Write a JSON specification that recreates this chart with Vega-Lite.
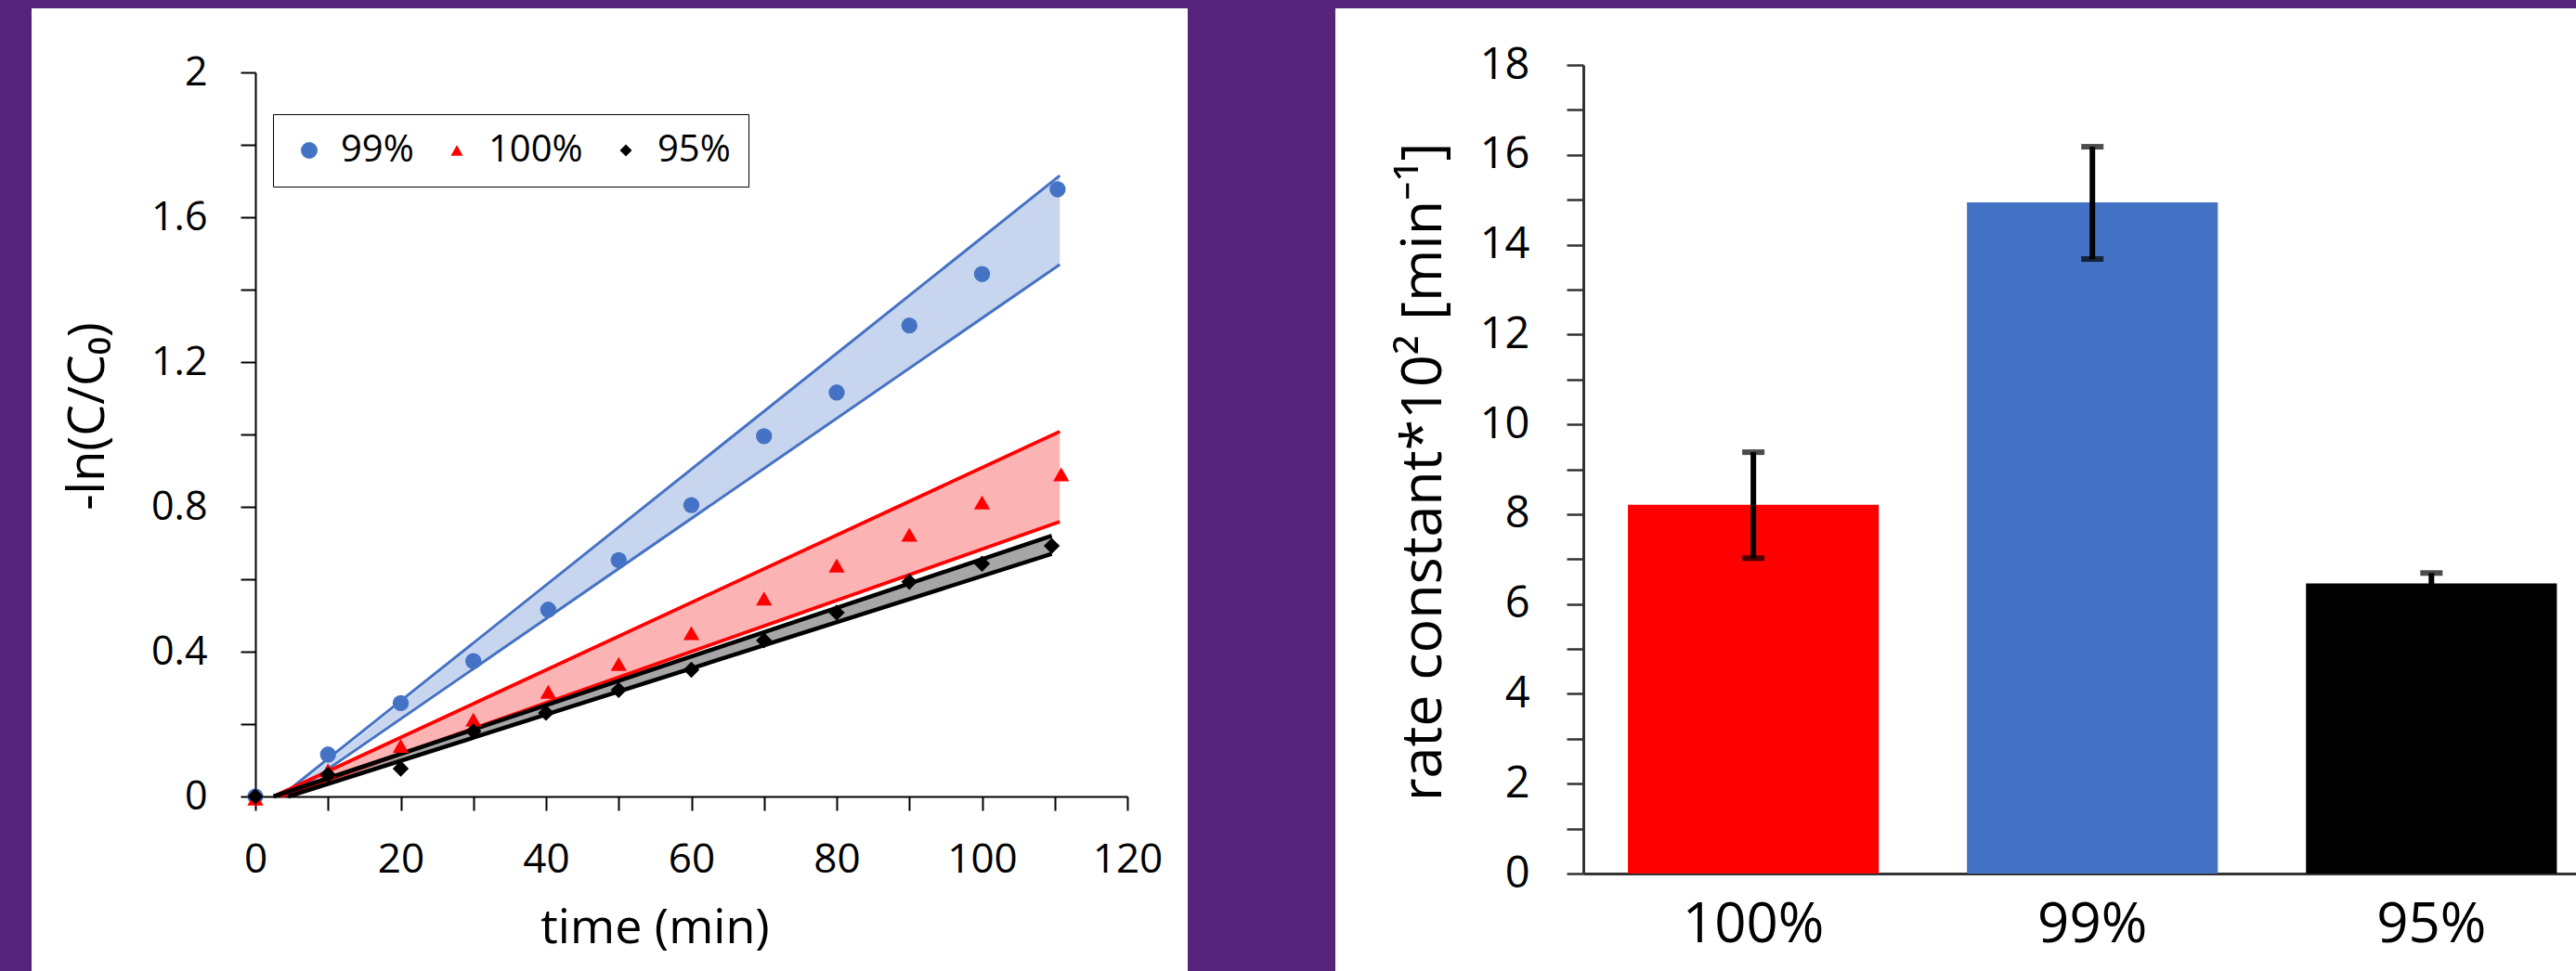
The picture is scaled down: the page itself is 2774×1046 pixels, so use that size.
{
  "$schema": "https://vega.github.io/schema/vega-lite/v6.json",
  "background": "#56237A",
  "padding": {"left": 34, "top": 9, "right": 0, "bottom": 0},
  "spacing": 159,
  "config": {
    "font": "Open Sans",
    "view": {"fill": "white", "stroke": null},
    "axis": {
      "grid": false,
      "domainColor": "#000000",
      "tickColor": "#000000",
      "labelColor": "#000000",
      "titleColor": "#000000",
      "labelFont": "Open Sans",
      "titleFont": "Open Sans",
      "titleFontWeight": "normal",
      "labelOverlap": false,
      "labelFlush": false,
      "labelBound": false
    }
  },
  "datasets": {
    "points": [
      {"series": "99%", "t": 0, "v": 0},
      {"series": "99%", "t": 10, "v": 0.116},
      {"series": "99%", "t": 20, "v": 0.258},
      {"series": "99%", "t": 30, "v": 0.374},
      {"series": "99%", "t": 40.3, "v": 0.516},
      {"series": "99%", "t": 50, "v": 0.653},
      {"series": "99%", "t": 60, "v": 0.805},
      {"series": "99%", "t": 70, "v": 0.995},
      {"series": "99%", "t": 80, "v": 1.116},
      {"series": "99%", "t": 90, "v": 1.301},
      {"series": "99%", "t": 100, "v": 1.443},
      {"series": "99%", "t": 110.4, "v": 1.677},
      {"series": "100%", "t": 0, "v": -0.006},
      {"series": "100%", "t": 10, "v": 0.072},
      {"series": "100%", "t": 20, "v": 0.14},
      {"series": "100%", "t": 30, "v": 0.212},
      {"series": "100%", "t": 40.3, "v": 0.289},
      {"series": "100%", "t": 50, "v": 0.366},
      {"series": "100%", "t": 60, "v": 0.451},
      {"series": "100%", "t": 70, "v": 0.547},
      {"series": "100%", "t": 80, "v": 0.638},
      {"series": "100%", "t": 90, "v": 0.723},
      {"series": "100%", "t": 100, "v": 0.812},
      {"series": "100%", "t": 110.9, "v": 0.89},
      {"series": "95%", "t": 0, "v": 0},
      {"series": "95%", "t": 10, "v": 0.06},
      {"series": "95%", "t": 20, "v": 0.077},
      {"series": "95%", "t": 30, "v": 0.18},
      {"series": "95%", "t": 40, "v": 0.231},
      {"series": "95%", "t": 50, "v": 0.294},
      {"series": "95%", "t": 60, "v": 0.35},
      {"series": "95%", "t": 70, "v": 0.431},
      {"series": "95%", "t": 80, "v": 0.508},
      {"series": "95%", "t": 90, "v": 0.593},
      {"series": "95%", "t": 100, "v": 0.643},
      {"series": "95%", "t": 109.6, "v": 0.692}
    ],
    "bands": [
      {"series": "99%", "t": 4, "lo": 0, "hi": 0},
      {"series": "99%", "t": 110.7, "lo": 1.469, "hi": 1.715},
      {"series": "100%", "t": 3, "lo": 0, "hi": 0},
      {"series": "100%", "t": 110.7, "lo": 0.759, "hi": 1.008},
      {"series": "95%", "t": 3.5, "lo": 0, "hi": 0},
      {"series": "95%", "t": 109.6, "lo": 0.67, "hi": 0.72}
    ],
    "lines": [
      {"series": "99%", "edge": "upper", "x1": 3.5, "y1": 0, "x2": 110.7, "y2": 1.715},
      {"series": "99%", "edge": "lower", "x1": 4.5, "y1": 0, "x2": 110.7, "y2": 1.469},
      {"series": "100%", "edge": "upper", "x1": 2.5, "y1": 0, "x2": 110.7, "y2": 1.008},
      {"series": "100%", "edge": "lower", "x1": 3.5, "y1": 0, "x2": 110.7, "y2": 0.759},
      {"series": "95%", "edge": "upper", "x1": 2.5, "y1": 0, "x2": 109.6, "y2": 0.72},
      {"series": "95%", "edge": "lower", "x1": 4.5, "y1": 0, "x2": 109.6, "y2": 0.67}
    ],
    "bars": [
      {"cat": "100%", "k": 8.21, "lo": 7.02, "hi": 9.38},
      {"cat": "99%", "k": 14.94, "lo": 13.68, "hi": 16.18},
      {"cat": "95%", "k": 6.46, "lo": 6.24, "hi": 6.69}
    ]
  },
  "hconcat": [
    {
      "width": 1245,
      "height": 1037,
      "layer": [
        {
          "data": {"name": "bands"},
          "mark": {"type": "area", "opacity": 1},
          "encoding": {
            "x": {
              "field": "t", "type": "quantitative", "title": "time (min)",
              "scale": {"domain": [0, 120], "range": [241, 1180], "nice": false, "zero": false},
              "axis": {
                "values": [0, 10, 20, 30, 40, 50, 60, 70, 80, 90, 100, 110, 120],
                "labelExpr": "datum.value % 20 == 0 ? datum.label : ''",
                "offset": -188,
                "tickSize": 15, "tickWidth": 2, "domainWidth": 2,
                "labelFontSize": 44, "labelPadding": 31,
                "titleFontSize": 52, "titleX": 671, "titleY": 157,
                "titleBaseline": "alphabetic", "titleAlign": "center"
              }
            },
            "y": {
              "field": "lo", "type": "quantitative", "title": "-ln(C/C₀)",
              "scale": {"domain": [0, 2], "range": [849, 69], "nice": false},
              "axis": {
                "values": [0, 0.2, 0.4, 0.6, 0.8, 1, 1.2, 1.4, 1.6, 1.8, 2],
                "format": "~g",
                "labelExpr": "round(datum.value * 10) % 4 == 0 ? datum.label : ''",
                "offset": -241,
                "tickSize": 16, "tickWidth": 2, "domainWidth": 2,
                "labelFontSize": 43, "labelPadding": 36,
                "titleFontSize": 54, "titleX": -180, "titleY": 439,
                "titleAngle": 270, "titleBaseline": "middle", "titleAlign": "center"
              }
            },
            "y2": {"field": "hi"},
            "fill": {
              "field": "series", "type": "nominal",
              "scale": {"domain": ["100%", "95%", "99%"], "range": ["#FBB3B3", "#A6A6A6", "#C7D5EE"]},
              "legend": null
            }
          }
        },
        {
          "data": {"name": "lines"},
          "mark": {"type": "rule"},
          "encoding": {
            "x": {"field": "x1", "type": "quantitative", "title": "time (min)"},
            "x2": {"field": "x2"},
            "y": {"field": "y1", "type": "quantitative", "title": "-ln(C/C₀)"},
            "y2": {"field": "y2"},
            "stroke": {
              "field": "series", "type": "nominal",
              "scale": {"domain": ["95%", "99%", "100%"], "range": ["#000000", "#4472C4", "#FF0000"]},
              "legend": null
            },
            "strokeWidth": {
              "field": "series", "type": "nominal",
              "scale": {"domain": ["95%", "100%", "99%"], "range": [4.5, 3, 3]},
              "legend": null
            }
          }
        },
        {
          "data": {"name": "points"},
          "mark": {"type": "point", "filled": true, "opacity": 1, "size": 300},
          "encoding": {
            "x": {"field": "t", "type": "quantitative", "title": "time (min)"},
            "y": {"field": "v", "type": "quantitative", "title": "-ln(C/C₀)"},
            "color": {
              "field": "series", "type": "nominal",
              "scale": {"domain": ["95%", "99%", "100%"], "range": ["#000000", "#4472C4", "#FF0000"]},
              "legend": null
            },
            "shape": {
              "field": "series", "type": "nominal",
              "scale": {"domain": ["99%", "100%", "95%"], "range": ["circle", "triangle-up", "diamond"]},
              "legend": {
                "orient": "none", "legendX": 260, "legendY": 114,
                "direction": "horizontal", "title": null,
                "strokeColor": "#000000", "fillColor": "#FFFFFF",
                "padding": 19, "labelFontSize": 40, "labelOffset": 14,
                "columnPadding": 26, "symbolSize": 280, "symbolStrokeWidth": 0,
                "labelColor": "#000000",
                "encoding": {
                  "symbols": {
                    "fill": {"value": {"expr": "datum.value === '99%' ? '#4472C4' : (datum.value === '100%' ? '#FF0000' : '#000000')"}},
                    "size": {"value": {"expr": "datum.value === '99%' ? 324 : 170"}}
                  }
                }
              }
            }
          }
        }
      ]
    },
    {
      "width": 1336,
      "height": 1037,
      "data": {"name": "bars"},
      "encoding": {
        "x": {
          "field": "cat", "type": "nominal", "sort": ["100%", "99%", "95%"], "title": null,
          "scale": {"range": [267, 1336], "paddingInner": 0.26, "paddingOuter": 0.094, "align": 0.7},
          "axis": {
            "offset": -105, "ticks": false, "tickSize": 0,
            "domainWidth": 3, "domainColor": "#333333",
            "labelFontSize": 60, "labelPadding": 26, "labelAngle": 0, "labelBaseline": "top"
          }
        }
      },
      "layer": [
        {
          "mark": {"type": "bar"},
          "encoding": {
            "y": {
              "field": "k", "type": "quantitative", "title": "rate constant*10² [min⁻¹]",
              "scale": {"domain": [0, 18], "range": [932, 61], "nice": false},
              "axis": {
                "values": [0, 1, 2, 3, 4, 5, 6, 7, 8, 9, 10, 11, 12, 13, 14, 15, 16, 17, 18],
                "format": "~g",
                "labelExpr": "datum.value % 2 == 0 ? datum.label : ''",
                "offset": -267,
                "tickSize": 18, "tickWidth": 2.5, "domainWidth": 3,
                "domainColor": "#333333", "tickColor": "#333333",
                "labelFontSize": 47, "labelPadding": 40,
                "titleFontSize": 61, "titleX": -172, "titleY": 499,
                "titleAngle": 270, "titleBaseline": "middle", "titleAlign": "center"
              }
            },
            "color": {
              "field": "cat", "type": "nominal",
              "scale": {"domain": ["100%", "99%", "95%"], "range": ["#FF0000", "#4472C4", "#000000"]},
              "legend": null
            }
          }
        },
        {
          "mark": {"type": "rule", "strokeWidth": 6, "color": "#000000"},
          "encoding": {
            "y": {"field": "lo", "type": "quantitative", "title": "rate constant*10² [min⁻¹]"},
            "y2": {"field": "hi"}
          }
        },
        {
          "mark": {"type": "tick", "thickness": 6, "size": 24, "color": "#000000"},
          "encoding": {
            "y": {"field": "lo", "type": "quantitative", "title": "rate constant*10² [min⁻¹]"}
          }
        },
        {
          "mark": {"type": "tick", "thickness": 6, "size": 24, "color": "#000000"},
          "encoding": {
            "y": {"field": "hi", "type": "quantitative", "title": "rate constant*10² [min⁻¹]"}
          }
        }
      ]
    }
  ]
}
